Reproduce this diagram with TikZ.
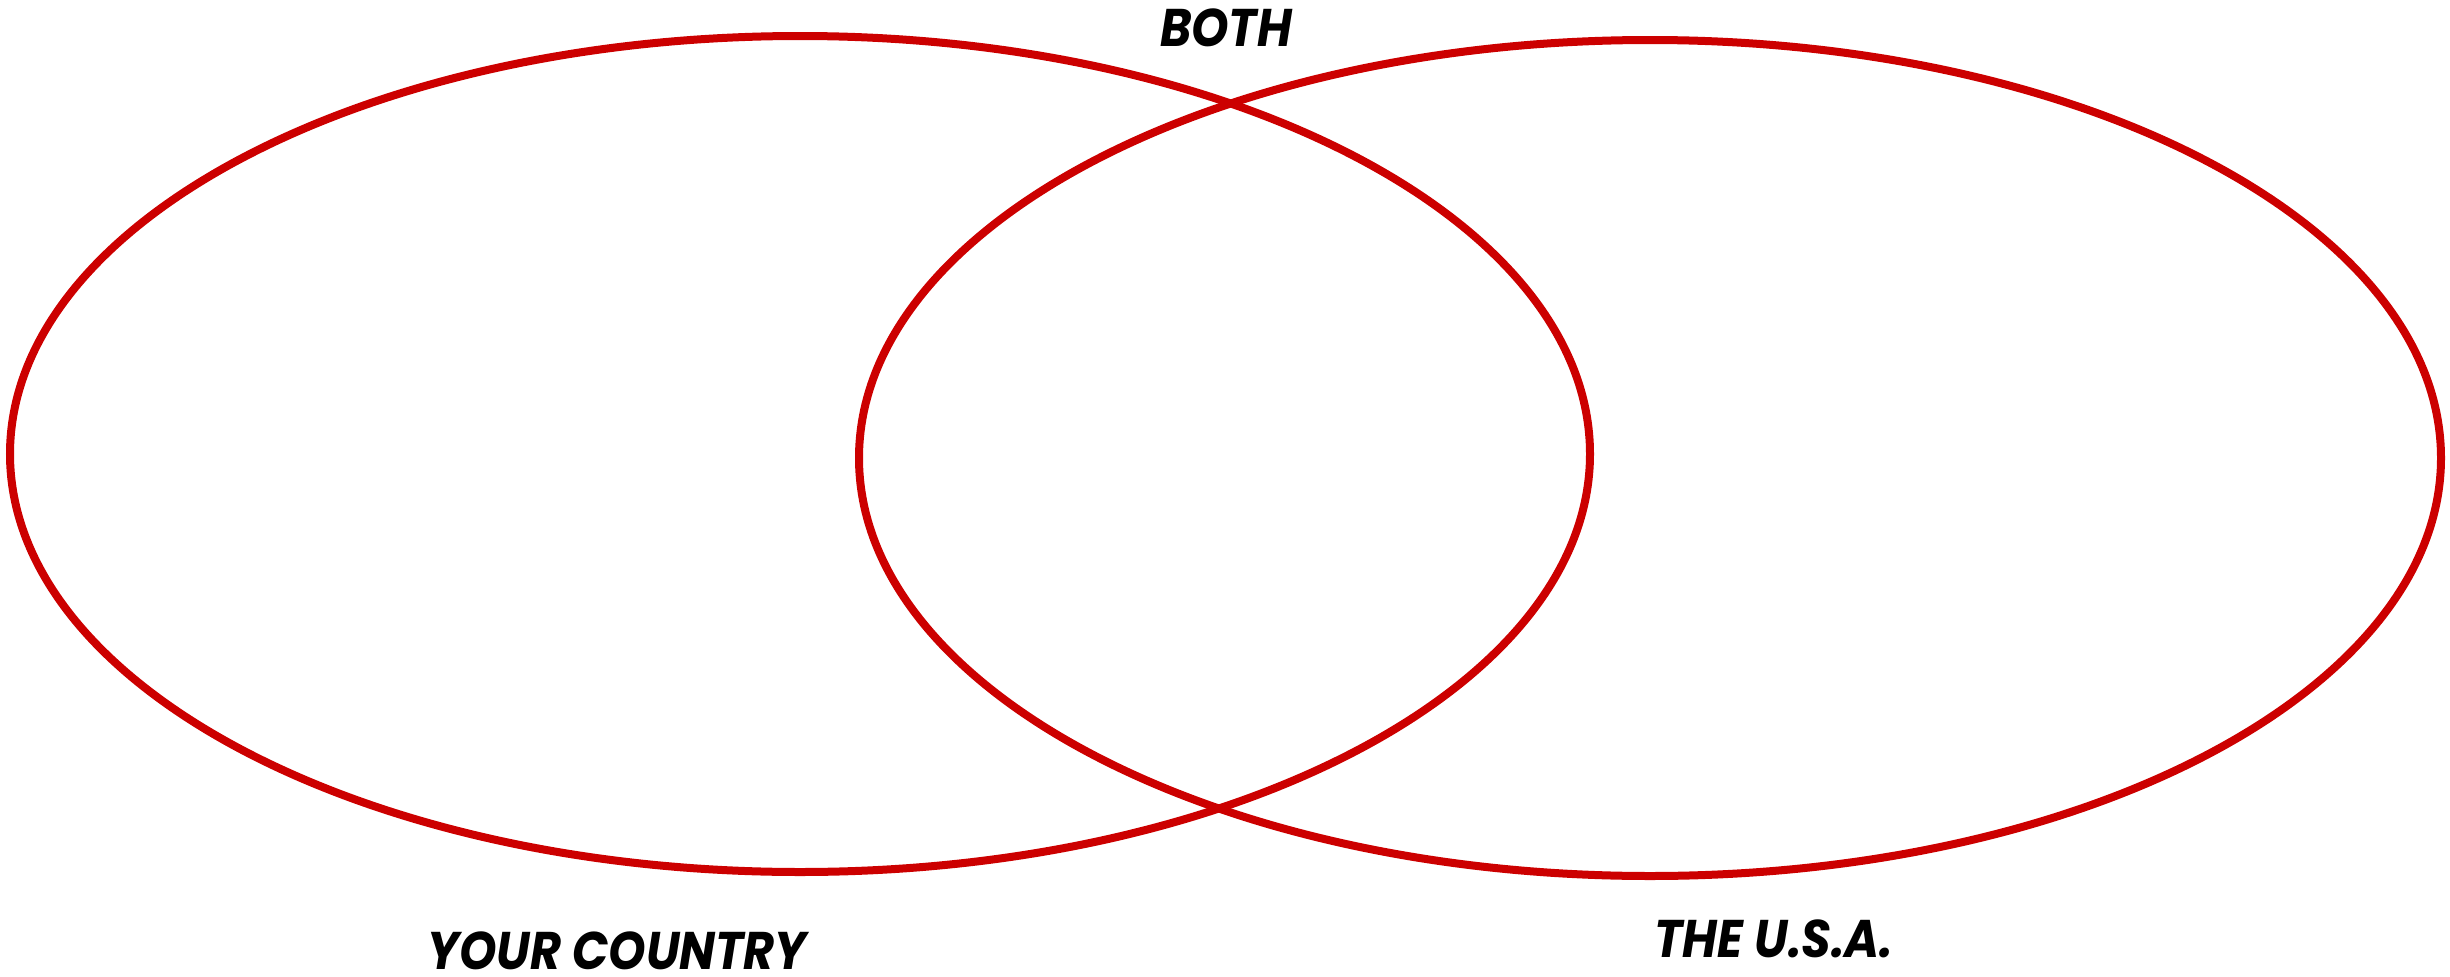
\documentclass[tikz,border=0pt]{standalone}
\usepackage{fontspec}
\setmainfont{Poppins}[BoldItalicFeatures={FakeStretch=0.9}]
\definecolor{vred}{HTML}{CC0000}
\tikzset{
  venn/.style={draw=vred, line width=8pt},
  lbl/.style={font=\fontsize{53}{53}\selectfont\bfseries\itshape, text=black,
    inner sep=0pt, anchor=base, text depth=0pt}
}
\begin{document}
\begin{tikzpicture}[x=1pt,y=-1pt]
\useasboundingbox (0,0) rectangle (2450,977);
\draw[venn] (800,454) ellipse [x radius=790, y radius=418];
\draw[venn] (1650,458) ellipse [x radius=791, y radius=418];
\node[lbl] (both) at (1226,46) {BOTH};
\node[lbl] (yours) at (617,969) {YOUR COUNTRY};
\node[lbl] (usa) at (1774,957) {THE U.S.A.};
\end{tikzpicture}
\end{document}
